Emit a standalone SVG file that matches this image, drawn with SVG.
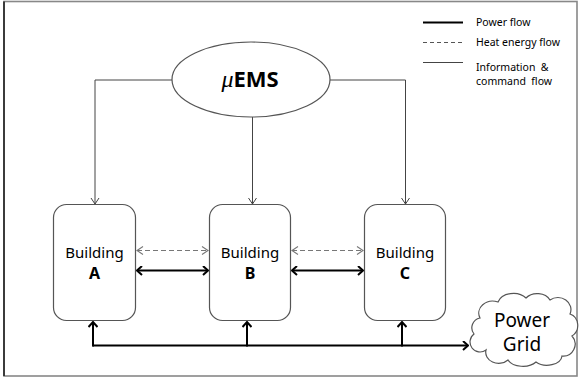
<svg xmlns="http://www.w3.org/2000/svg" width="579" height="381" viewBox="0 0 579 381">
  <style>
    .frame { fill: none; stroke: #444; stroke-width: 1.6; }
    .node { fill: #fff; stroke: #555; stroke-width: 1.2; }
    .power { fill: none; stroke: #000; stroke-width: 2; }
    .heat { fill: none; stroke: #777; stroke-width: 1.1; stroke-dasharray: 5 3; }
    .info { fill: none; stroke: #444; stroke-width: 1; }
    .lbl { font-family: "Noto Sans", "Open Sans", sans-serif; fill: #000; }
    .legend { font-family: "Noto Sans", "Open Sans", sans-serif; font-size: 10.5px; fill: #000; }
  </style>
  <defs>
    <marker id="headPower" markerUnits="userSpaceOnUse" viewBox="0 0 10 10" refX="9" refY="5" markerWidth="10" markerHeight="10" orient="auto-start-reverse">
      <path d="M4,0.5 L9,5 L4,9.5" fill="none" stroke="#000" stroke-width="2"/>
    </marker>
    <marker id="headHeat" markerUnits="userSpaceOnUse" viewBox="0 0 10 10" refX="9" refY="5" markerWidth="10" markerHeight="10" orient="auto-start-reverse">
      <path d="M3,1 L9,5 L3,9" fill="none" stroke="#777" stroke-width="1.1"/>
    </marker>
    <marker id="headInfo" markerUnits="userSpaceOnUse" viewBox="0 0 10 10" refX="9" refY="5" markerWidth="10" markerHeight="10" orient="auto">
      <path d="M3,1 L9,5 L3,9" fill="none" stroke="#444" stroke-width="1"/>
    </marker>
  </defs>

  <rect width="579" height="381" fill="#fff"/>
  <!-- outer frame -->
  <rect class="frame" x="4" y="1.5" width="573" height="374.5" style="stroke:#888"/>
  <line x1="4" y1="1.5" x2="4" y2="376" stroke="#222" stroke-width="1.6"/>

  <!-- legend -->
  <g id="legend">
    <line x1="423" y1="22.5" x2="463" y2="22.5" class="power"/>
    <text class="legend" x="476" y="25.5">Power flow</text>
    <line x1="423" y1="42.5" x2="463" y2="42.5" stroke="#555" stroke-width="1" stroke-dasharray="4 3"/>
    <text class="legend" x="476" y="46">Heat energy flow</text>
    <line x1="423" y1="62.5" x2="463" y2="62.5" class="info"/>
    <text class="legend" x="476" y="70.5" xml:space="preserve">Information  &amp;</text>
    <text class="legend" x="476" y="85" xml:space="preserve">command  flow</text>
  </g>

  <!-- connectors -->
  <g id="connectors">
    <!-- information & command -->
    <polyline class="info" points="172,80 95,80 95,204" marker-end="url(#headInfo)"/>
    <polyline class="info" points="330,80 405.5,80 405.5,204" marker-end="url(#headInfo)"/>
    <line class="info" x1="252.5" y1="117" x2="252.5" y2="204" marker-end="url(#headInfo)"/>
    <!-- heat energy -->
    <line class="heat" x1="137" y1="250.5" x2="208" y2="250.5" marker-start="url(#headHeat)" marker-end="url(#headHeat)"/>
    <line class="heat" x1="292" y1="250.5" x2="363" y2="250.5" marker-start="url(#headHeat)" marker-end="url(#headHeat)"/>
    <!-- power between buildings -->
    <line class="power" x1="137" y1="270.5" x2="208" y2="270.5" marker-start="url(#headPower)" marker-end="url(#headPower)"/>
    <line class="power" x1="292" y1="270.5" x2="363" y2="270.5" marker-start="url(#headPower)" marker-end="url(#headPower)"/>
    <!-- power bus to grid -->
    <line class="power" x1="92.5" y1="345.5" x2="468" y2="345.5" marker-end="url(#headPower)"/>
    <line class="power" x1="93" y1="346.5" x2="93" y2="322" marker-end="url(#headPower)"/>
    <line class="power" x1="247" y1="346.5" x2="247" y2="322" marker-end="url(#headPower)"/>
    <line class="power" x1="402" y1="346.5" x2="402" y2="322" marker-end="url(#headPower)"/>
  </g>

  <!-- energy management system -->
  <g id="uems">
    <ellipse class="node" cx="251" cy="79.5" rx="79" ry="37.5"/>
    <text class="lbl" x="250" y="87" text-anchor="middle" font-size="22"><tspan font-style="italic" font-family="'Liberation Serif', serif" font-size="24">μ</tspan><tspan font-weight="bold">EMS</tspan></text>
  </g>

  <g id="buildingA">
    <rect class="node" x="53.5" y="204.5" width="82" height="116" rx="13"/>
    <text class="lbl" x="94.5" y="258" text-anchor="middle" font-size="15">Building</text>
    <text class="lbl" x="94.5" y="278.5" text-anchor="middle" font-size="16" font-weight="bold">A</text>
  </g>

  <g id="buildingB">
    <rect class="node" x="209.5" y="204.5" width="81" height="116" rx="13"/>
    <text class="lbl" x="250" y="258" text-anchor="middle" font-size="15">Building</text>
    <text class="lbl" x="250" y="278.5" text-anchor="middle" font-size="16" font-weight="bold">B</text>
  </g>

  <g id="buildingC">
    <rect class="node" x="364.5" y="204.5" width="81" height="116" rx="13"/>
    <text class="lbl" x="405" y="258" text-anchor="middle" font-size="15">Building</text>
    <text class="lbl" x="405" y="278.5" text-anchor="middle" font-size="16" font-weight="bold">C</text>
  </g>

  <g id="powerGrid">
    <path class="node" d="M480,318 a14,12 0 0 1 18,-16 a16,12 0 0 1 28,-4 a14,11 0 0 1 24,2 a13,12 0 0 1 20,14 a11,12 0 0 1 2,22 a12,12 0 0 1 -10,20 a15,10 0 0 1 -26,6 a16,10 0 0 1 -28,-2 a13,11 0 0 1 -22,-10 a10,10 0 0 1 -12,-16 a10,10 0 0 1 6,-16 Z"/>
    <text class="lbl" x="522" y="327" text-anchor="middle" font-size="19">Power</text>
    <text class="lbl" x="522" y="351" text-anchor="middle" font-size="19">Grid</text>
  </g>
</svg>
